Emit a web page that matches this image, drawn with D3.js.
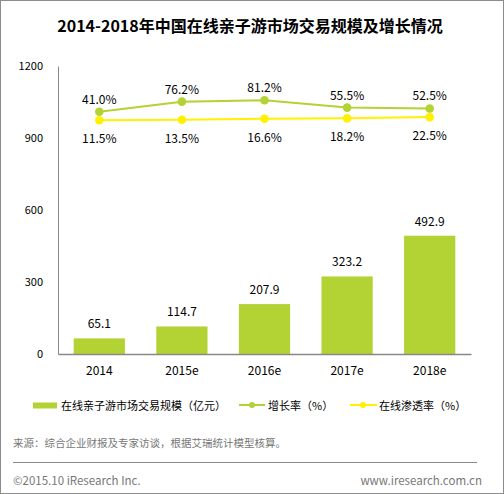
<!DOCTYPE html>
<html><head><meta charset="utf-8">
<script src="https://cdn.jsdelivr.net/npm/d3@7"></script>
<style>
html,body{margin:0;padding:0;background:#fff;}
svg{display:block;}
text{font-family:"Noto Sans CJK SC","DejaVu Sans",sans-serif;}
</style></head>
<body>
<svg id="c" width="504" height="494"></svg>
<script>
const categories = ["2014","2015e","2016e","2017e","2018e"];
const marketSize = [65.1,114.7,207.9,323.2,492.9];
const growthRate = [41.0,76.2,81.2,55.5,52.5];
const penetration = [11.5,13.5,16.6,18.2,22.5];
const yTicks = [0,300,600,900,1200];
const title = "2014-2018年中国在线亲子游市场交易规模及增长情况";
const legendLabels = ["在线亲子游市场交易规模（亿元）","增长率（%）","在线渗透率（%）"];
const sourceText = "来源：综合企业财报及专家访谈，根据艾瑞统计模型核算。";

(function(){
const barColor = "#b3d234", growthColor = "#b3d234", penColor = "#fff100";
const svg = d3.select("#c");
const W=504,H=494;
svg.append("rect").attr("x",0.5).attr("y",0.5).attr("width",W-1).attr("height",H-1)
  .attr("fill","#fff").attr("stroke","#8c8c8c").attr("stroke-width",1);

const pl=58,pr=471,pt=66,pb=354;
const x = d3.scaleBand().domain(categories).range([pl,pr]).paddingInner(0.38).paddingOuter(0.19);
const y = d3.scaleLinear().domain([0,1200]).range([pb,pt]);
const y2 = d3.scaleLinear().domain([-800,200]).range([pb,pt]);

svg.append("text").attr("x",250).attr("y",32).attr("text-anchor","middle")
  .attr("font-size",16).attr("font-weight","bold").attr("fill","#000").text(title);

const ya = svg.append("g").attr("transform",`translate(${pl},0)`)
  .call(d3.axisLeft(y).tickValues(yTicks).tickFormat(d3.format("d")).tickSize(0).tickPadding(15));
ya.select(".domain").attr("stroke","#888").attr("stroke-width",1);
ya.selectAll("text").attr("fill","#000").attr("font-family","'DejaVu Sans',sans-serif").attr("font-size",11);

svg.append("g").selectAll("rect").data(marketSize).join("rect")
  .attr("x",(d,i)=>x(categories[i])).attr("width",x.bandwidth())
  .attr("y",d=>y(d)).attr("height",d=>pb-y(d)).attr("fill",barColor);

svg.append("g").selectAll("text").data(marketSize).join("text")
  .attr("x",(d,i)=>x(categories[i])+x.bandwidth()/2).attr("y",d=>y(d)-10)
  .attr("text-anchor","middle").attr("font-size",12).attr("font-family","'DejaVu Sans',sans-serif").attr("fill","#000")
  .text(d=>d.toFixed(1));

const xa = svg.append("g").attr("transform",`translate(0,${pb})`)
  .call(d3.axisBottom(x).tickSize(0).tickPadding(12).tickSizeOuter(0));
xa.select(".domain").attr("stroke","#888").attr("stroke-width",1.5);
xa.selectAll("text").attr("font-size",12).attr("font-family","'DejaVu Sans',sans-serif").attr("fill","#000");

const cx = i => x(categories[i])+x.bandwidth()/2;
function drawLine(vals,color,labelDy){
  const line = d3.line().x((d,i)=>cx(i)).y(d=>y2(d));
  svg.append("path").datum(vals).attr("d",line).attr("fill","none").attr("stroke",color).attr("stroke-width",2);
  svg.append("g").selectAll("circle").data(vals).join("circle")
    .attr("cx",(d,i)=>cx(i)).attr("cy",d=>y2(d)).attr("r",4.3).attr("fill",color);
  svg.append("g").selectAll("text").data(vals).join("text")
    .attr("x",(d,i)=>cx(i)).attr("y",d=>y2(d)+labelDy).attr("text-anchor","middle")
    .attr("font-size",12).attr("font-family","'DejaVu Sans',sans-serif").attr("fill","#000")
    .text(d=>d.toFixed(1)+"%");
}
drawLine(penetration,penColor,23);
drawLine(growthRate,growthColor,-8);

const lg = svg.append("g").attr("font-size",11);
lg.append("rect").attr("x",33).attr("y",402.5).attr("width",24).attr("height",6).attr("fill",barColor);
lg.append("text").attr("x",61).attr("y",409.5).attr("fill","#000").text(legendLabels[0]);
lg.append("line").attr("x1",239).attr("x2",265).attr("y1",405).attr("y2",405).attr("stroke",growthColor).attr("stroke-width",2);
lg.append("circle").attr("cx",252).attr("cy",405).attr("r",3).attr("fill",growthColor);
lg.append("text").attr("x",268).attr("y",409.5).attr("fill","#000").text(legendLabels[1]);
lg.append("line").attr("x1",350).attr("x2",377).attr("y1",405).attr("y2",405).attr("stroke",penColor).attr("stroke-width",2);
lg.append("circle").attr("cx",363).attr("cy",405).attr("r",3).attr("fill",penColor);
lg.append("text").attr("x",379).attr("y",409.5).attr("fill","#000").text(legendLabels[2]);

svg.append("text").attr("x",13).attr("y",447).attr("font-size",10.5).attr("fill","#777").text(sourceText);
svg.append("line").attr("x1",13).attr("x2",477).attr("y1",462.5).attr("y2",462.5).attr("stroke","#888").attr("stroke-width",1);
svg.append("text").attr("x",13).attr("y",485).attr("font-size",11.5).attr("fill","#777").attr("font-family","'DejaVu Sans',sans-serif").text("©2015.10 iResearch Inc.");
svg.append("text").attr("x",482).attr("y",485).attr("text-anchor","end").attr("font-size",11.5).attr("fill","#777").attr("font-family","'DejaVu Sans',sans-serif").text("www.iresearch.com.cn");
})();
</script>
</body></html>
